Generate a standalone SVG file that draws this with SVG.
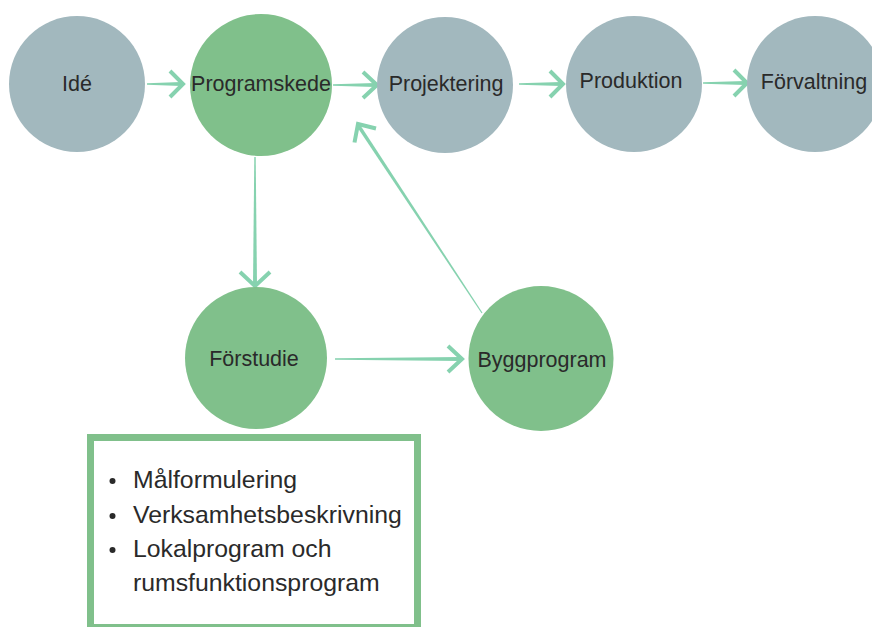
<svg xmlns="http://www.w3.org/2000/svg" width="872" height="627" viewBox="0 0 872 627">
<style>
.gray{fill:#a2b8be}
.green{fill:#80c08b}
.lbl{font-family:"Liberation Sans",Arial,sans-serif;font-size:21.5px;fill:#2a2a2a;text-anchor:middle}
.item{font-family:"Liberation Sans",Arial,sans-serif;font-size:24.8px;fill:#2a2a2a}
.shaft{fill:#86d2af}
.head{fill:none;stroke:#86d2af;stroke-width:4;stroke-linecap:butt;stroke-linejoin:miter}
</style>
<rect width="872" height="627" fill="#ffffff"/>
<g id="connectors">
  <polygon class="shaft" points="147,83.3 181,82 181,86 147,84.7"/>
  <path class="head" d="M170,71 L183,84 L170,97"/>
  <polygon class="shaft" points="333,84.3 375,83 375,87 333,85.7"/>
  <path class="head" d="M363,72 L377,85 L363,98"/>
  <polygon class="shaft" points="519,83.3 561,82 561,86 519,84.7"/>
  <path class="head" d="M550,71 L563,84 L550,97"/>
  <polygon class="shaft" points="703,82.3 745,81 745,85 703,83.7"/>
  <path class="head" d="M734,70 L747,83 L734,96"/>
  <polygon class="shaft" points="254.3,157 255.7,157 257,285 253,285"/>
  <path class="head" d="M240,272 L255,286 L270,272"/>
  <polygon class="shaft" points="335,358.3 461,357 461,361 335,359.7"/>
  <path class="head" d="M448,346 L462,359 L448,372"/>
  <polygon class="shaft" points="482.5,312.7 481.5,313.3 356.5,126 359.5,124"/>
  <path class="head" d="M376,128.5 L358,124 L354.5,142.5"/>
</g>
<g id="ide">
  <circle class="gray" cx="77" cy="84" r="68"/>
  <text class="lbl" x="77" y="91">Idé</text>
</g>
<g id="programskede">
  <circle class="green" cx="261" cy="85" r="71"/>
  <text class="lbl" x="261" y="91">Programskede</text>
</g>
<g id="projektering">
  <circle class="gray" cx="445" cy="85" r="68"/>
  <text class="lbl" x="446" y="91">Projektering</text>
</g>
<g id="produktion">
  <circle class="gray" cx="634" cy="84" r="68"/>
  <text class="lbl" x="631" y="88">Produktion</text>
</g>
<g id="forvaltning">
  <circle class="gray" cx="815" cy="84" r="68"/>
  <text class="lbl" x="814" y="89">Förvaltning</text>
</g>
<g id="forstudie">
  <circle class="green" cx="256" cy="358" r="71"/>
  <text class="lbl" x="254" y="366">Förstudie</text>
</g>
<g id="byggprogram">
  <circle class="green" cx="541" cy="358.5" r="72.5"/>
  <text class="lbl" x="542" y="367">Byggprogram</text>
</g>
<g id="lista">
  <rect x="90.5" y="437.5" width="327" height="190" fill="#ffffff" stroke="#80c08b" stroke-width="7"/>
  <circle cx="112.5" cy="481" r="3" fill="#2a2a2a"/>
  <circle cx="112.5" cy="516" r="3" fill="#2a2a2a"/>
  <circle cx="112.5" cy="550" r="3" fill="#2a2a2a"/>
  <text class="item" x="133" y="488">Målformulering</text>
  <text class="item" x="133" y="523">Verksamhetsbeskrivning</text>
  <text class="item" x="133" y="557">Lokalprogram och</text>
  <text class="item" x="133" y="591">rumsfunktionsprogram</text>
</g>
</svg>
